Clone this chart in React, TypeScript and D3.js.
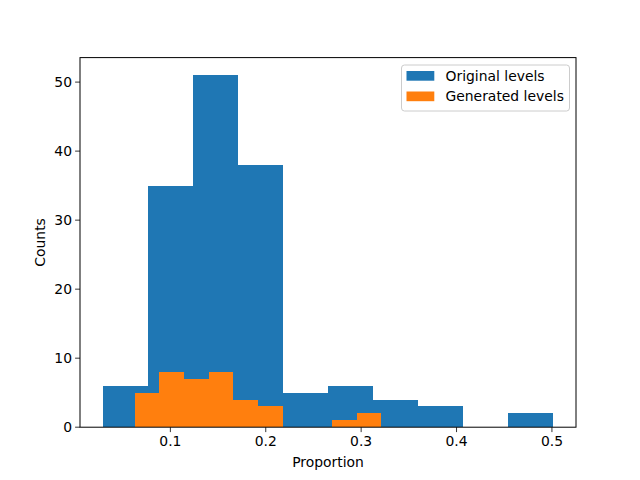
import React from 'react';
import * as d3 from 'd3';

const origEdges = [0.0289, 0.0762, 0.1235, 0.1707, 0.218, 0.2653, 0.3125, 0.3598, 0.4071, 0.4543, 0.5016];
const origCounts = [6, 35, 51, 38, 5, 6, 4, 3, 0, 2];
const genEdges = [0.0625, 0.0884, 0.1142, 0.1401, 0.1659, 0.1918, 0.2176, 0.2435, 0.2693, 0.2952, 0.321];
const genCounts = [5, 8, 7, 8, 4, 3, 0, 0, 1, 2];
const xTicks = [0.1, 0.2, 0.3, 0.4, 0.5];
const yTicks = [0, 10, 20, 30, 40, 50];
const seriesNames = ['Original levels', 'Generated levels'];
const colors = ['#1f77b4', '#ff7f0e'];

const W = 640;
const H = 480;
const margin = { top: 57.6, right: 64, bottom: 52.8, left: 80 };
const font = 'DejaVu Sans, sans-serif';

export default function App() {
  const x0 = margin.left;
  const x1 = W - margin.right;
  const y0 = H - margin.bottom;
  const y1 = margin.top;

  const lo = origEdges[0];
  const hi = origEdges[origEdges.length - 1];
  const pad = (hi - lo) * 0.05;
  const x = d3.scaleLinear().domain([lo - pad, hi + pad]).range([x0, x1]);
  const yMax = (d3.max(origCounts) || 0) * 1.05;
  const y = d3.scaleLinear().domain([0, yMax]).range([y0, y1]);

  const bars = (edges: number[], counts: number[], color: string, key: string) =>
    counts.map((c, i) => (
      <rect
        key={key + i}
        x={x(edges[i])}
        width={x(edges[i + 1]) - x(edges[i])}
        y={y(c)}
        height={y(0) - y(c)}
        fill={color}
        shapeRendering="crispEdges"
      />
    ));

  const lx = 401.5;
  const ly = 65;

  return (
    <svg width={W} height={H} style={{ position: 'absolute', left: 0, top: 0 }} fontFamily={font}>
      <rect width={W} height={H} fill="#fff" />
      {bars(origEdges, origCounts, colors[0], 'o')}
      {bars(genEdges, genCounts, colors[1], 'g')}

      <rect x={x0} y={y1} width={x1 - x0} height={y0 - y1} fill="none" stroke="#000" strokeWidth={1} />

      {xTicks.map(t => (
        <g key={'x' + t} transform={`translate(${x(t)},${y0})`}>
          <line y2={4.9} stroke="#000" strokeWidth={0.8} />
          <text y={19} textAnchor="middle" fontSize={13.9} fill="#000">{t.toFixed(1)}</text>
        </g>
      ))}
      {yTicks.map(t => (
        <g key={'y' + t} transform={`translate(${x0},${y(t)})`}>
          <line x2={-4.9} stroke="#000" strokeWidth={0.8} />
          <text x={-8} dy="0.35em" textAnchor="end" fontSize={13.9} fill="#000">{t}</text>
        </g>
      ))}

      <text x={(x0 + x1) / 2} y={467} textAnchor="middle" fontSize={13.9} fill="#000">Proportion</text>
      <text transform={`translate(45,${(y0 + y1) / 2}) rotate(-90)`} textAnchor="middle" fontSize={13.9} fill="#000">Counts</text>

      <rect x={lx} y={ly} width={168} height={46} rx={3} fill="#fff" fillOpacity={0.8} stroke="#ccc" strokeWidth={1} />
      {seriesNames.map((n, i) => (
        <g key={n} transform={`translate(${lx + 5},${ly + 6 + i * 20.5})`}>
          <rect width={27.8} height={9.7} fill={colors[i]} />
          <text x={39} y={5} dy="0.35em" fontSize={13.9} fill="#000">{n}</text>
        </g>
      ))}
    </svg>
  );
}
